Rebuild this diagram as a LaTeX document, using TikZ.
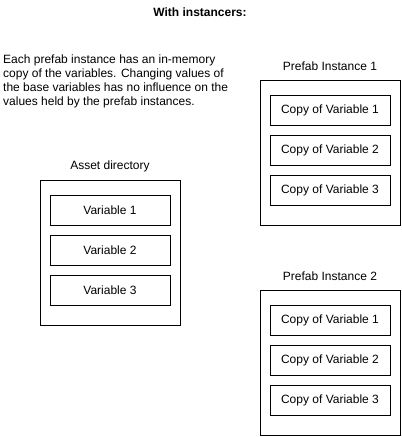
\documentclass[tikz,border=0pt]{standalone}
\usepackage{fontspec}
\setmainfont{Liberation Sans}
\begin{document}
\begin{tikzpicture}[x=1pt,y=-1pt,
  txt/.style={font=\fontsize{12}{14}\selectfont, inner sep=0pt},
  outerbox/.style={draw=black, line width=1pt, minimum width=140pt, minimum height=145pt, inner sep=0pt, anchor=north west},
  varbox/.style={draw=black, line width=1pt, minimum width=120pt, minimum height=30pt, inner sep=0pt, font=\fontsize{12}{14}\selectfont}]
\useasboundingbox[fill=white] (0,0) rectangle (402,437);
\node[txt, font=\fontsize{12}{14}\selectfont\bfseries] (title) at (200,12) {With instancers:};
\node[txt, anchor=west, align=left] (desc) at (3,81) {Each prefab instance has an in-memory\\copy of the variables. Changing values of\\the base variables has no influence on the\\values held by the prefab instances.};
% Asset directory
\node[txt] (alabel) at (110,166) {Asset directory};
\node[outerbox] (asset) at (40,180) {};
\node[varbox] (v1) at (110,210) {Variable 1};
\node[varbox] (v2) at (110,250) {Variable 2};
\node[varbox] (v3) at (110,290) {Variable 3};
% Prefab instance 1
\node[txt] (p1label) at (330,66) {Prefab Instance 1};
\node[outerbox] (p1) at (260,80) {};
\node[varbox] (p1v1) at (330,110) {Copy of Variable 1};
\node[varbox] (p1v2) at (330,150) {Copy of Variable 2};
\node[varbox] (p1v3) at (330,190) {Copy of Variable 3};
% Prefab instance 2
\node[txt] (p2label) at (330,276) {Prefab Instance 2};
\node[outerbox] (p2) at (260,290) {};
\node[varbox] (p2v1) at (330,320) {Copy of Variable 1};
\node[varbox] (p2v2) at (330,360) {Copy of Variable 2};
\node[varbox] (p2v3) at (330,400) {Copy of Variable 3};
\end{tikzpicture}
\end{document}
